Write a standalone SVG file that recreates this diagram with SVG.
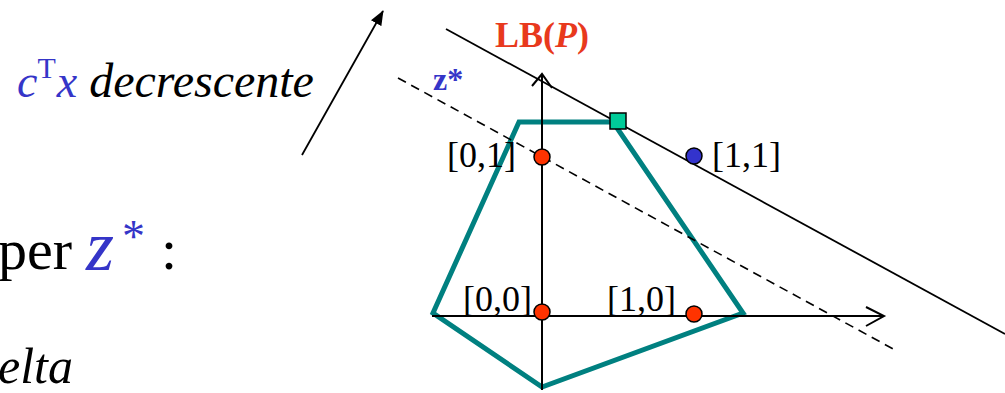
<svg xmlns="http://www.w3.org/2000/svg" width="1005" height="393" viewBox="0 0 1005 393">
<style>
.t{font-family:"Liberation Serif","DejaVu Serif",serif;}
.i{font-style:italic;}
.b{font-weight:bold;}
.blue{fill:#3535c8;}
.lbl{font-family:"Liberation Serif","DejaVu Serif",serif;font-size:36px;fill:#000;}
.dot{stroke:#000;stroke-width:1.5;}
.ax{stroke:#000;stroke-width:2;fill:none;}
</style>
<defs>
<marker id="tri" markerWidth="15" markerHeight="12" refX="14" refY="6" orient="auto" markerUnits="userSpaceOnUse" viewBox="0 0 15 12">
<path d="M0,0 L15,6 L0,12 z" fill="#000"/>
</marker>
</defs>
<rect width="1005" height="393" fill="#fff"/>
<g id="polytope">
<polygon points="433,313 519,122 613,122 743,313 542,387" fill="none" stroke="#008080" stroke-width="5" stroke-linejoin="miter"/>
</g>
<g id="connectors">
<line x1="542" y1="390" x2="542" y2="74" class="ax"/>
<polyline points="532,86 542,74 552,88" class="ax"/>
<line x1="432" y1="316" x2="884" y2="316" class="ax"/>
<polyline points="866,307 884,316 866,326" class="ax"/>
<line x1="446" y1="29" x2="1005" y2="334" stroke="#000" stroke-width="1.8"/>
<line x1="398" y1="78" x2="895" y2="350" stroke="#000" stroke-width="1.6" stroke-dasharray="9,6"/>
<line x1="302" y1="155" x2="383" y2="11" stroke="#000" stroke-width="1.8" marker-end="url(#tri)"/>
</g>
<g id="p01"><circle cx="542" cy="157" r="8" fill="#ff3300" class="dot"/><text class="lbl" x="447" y="167">[0,1]</text></g>
<g id="p11"><circle cx="694" cy="156" r="8" fill="#3333cc" class="dot"/><text class="lbl" x="712" y="167">[1,1]</text></g>
<g id="p00"><circle cx="542" cy="312" r="8" fill="#ff3300" class="dot"/><text class="lbl" x="463" y="311">[0,0]</text></g>
<g id="p10"><circle cx="694" cy="314" r="8" fill="#ff3300" class="dot"/><text class="lbl" x="607" y="311">[1,0]</text></g>
<g id="opt"><rect x="610" y="113" width="16" height="16" fill="#00cc99" stroke="#000" stroke-width="1.5"/></g>
<g id="lbp"><text class="t b" x="495" y="47" font-size="36" fill="#e8391d">LB(<tspan class="i">P</tspan>)</text></g>
<g id="zstar"><text class="t b blue" x="433" y="90" font-size="32">z*</text></g>
<g id="dir">
<text class="t" x="17" y="97" font-size="46"><tspan class="i blue">c</tspan><tspan class="blue" font-size="30" dy="-19">T</tspan><tspan class="i blue" dy="19" dx="1">x</tspan><tspan class="i" fill="#000" font-size="48"> decrescente</tspan></text>
</g>
<g id="txt2">
<text class="t" x="-2" y="269" font-size="58" fill="#000">per</text>
<text class="t i blue" x="86" y="270" font-size="72">z</text>
<text class="t blue" x="122" y="252" font-size="46">*</text>
<text class="t" x="161" y="269" font-size="58" fill="#000">:</text>
</g>
<g id="txt3"><text class="t i" x="-2" y="383" font-size="50" fill="#000">elta</text></g>
</svg>
